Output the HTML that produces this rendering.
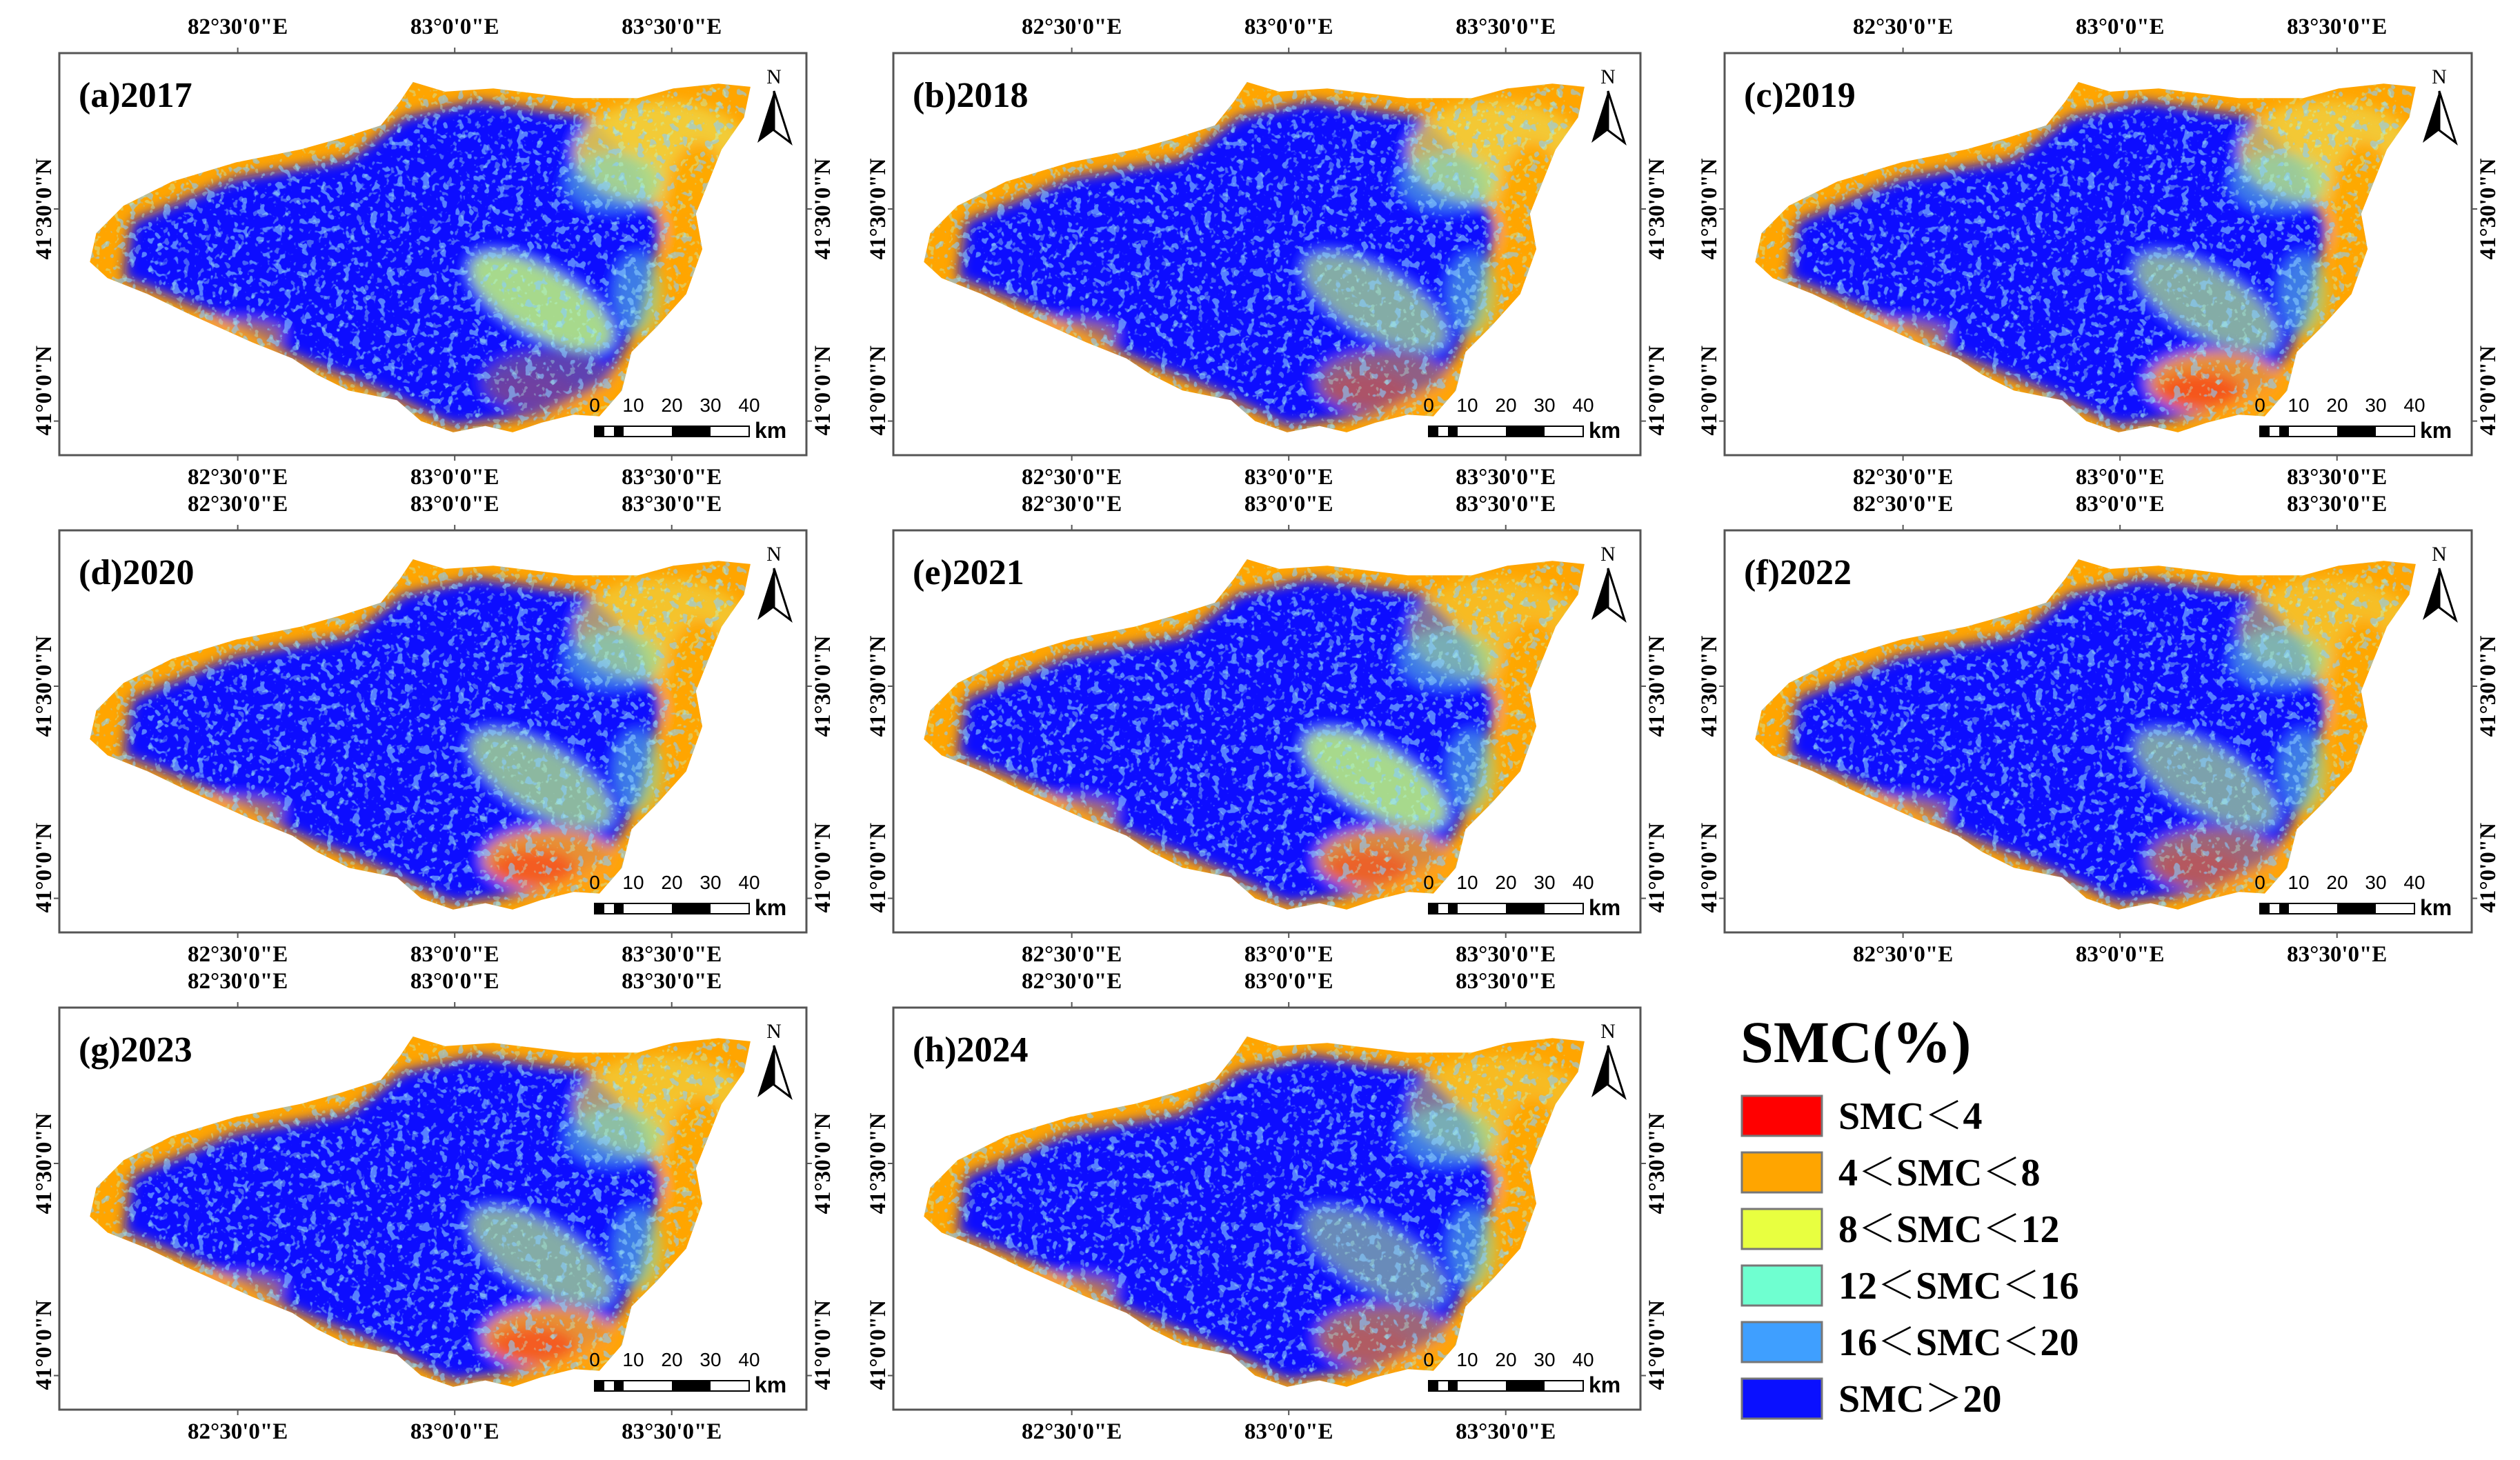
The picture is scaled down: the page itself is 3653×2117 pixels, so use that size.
<!DOCTYPE html>
<html><head><meta charset="utf-8">
<style>
html,body{margin:0;padding:0;background:#fff;}
svg{display:block;font-family:"Liberation Serif","Noto Serif CJK SC",serif;}
</style></head>
<body>
<svg id="fig" width="3653" height="2117" viewBox="0 0 3653 2117" xmlns="http://www.w3.org/2000/svg">
<defs>
<filter id="spk" x="0" y="0" width="1" height="1">
<feTurbulence type="fractalNoise" baseFrequency="0.08" numOctaves="2" seed="3"/>
<feColorMatrix type="matrix" values="0 0 0 0 0.25  0 0 0 0 0.62  0 0 0 0 1  16 0 0 0 -9.6"/>
</filter>
<filter id="spk2" x="0" y="0" width="1" height="1">
<feTurbulence type="fractalNoise" baseFrequency="0.1" numOctaves="2" seed="9"/>
<feColorMatrix type="matrix" values="0 0 0 0 0.45  0 0 0 0 1  0 0 0 0 0.8  16 0 0 0 -10"/>
</filter>
<filter id="blur"><feGaussianBlur stdDeviation="9"/></filter>
</defs>
</svg>
<script>
const years = ["(a)2017","(b)2018","(c)2019","(d)2020","(e)2021","(f)2022","(g)2023","(h)2024"];
const seOrange = [0.35,0.55,0.9,0.9,0.85,0.6,0.9,0.6];
const seRed = [0.1,0.25,0.6,0.55,0.45,0.25,0.55,0.2];
const centerLight = [0.9,0.7,0.7,0.75,0.9,0.65,0.7,0.55];
const neBlue = [0.2,0.3,0.3,0.5,0.8,0.7,0.5,0.8];
const lonLabels = ["82°30'0\"E","83°0'0\"E","83°30'0\"E"];
const latLabels = ["41°30'0\"N","41°0'0\"N"];
const scaleLabels = ["0","10","20","30","40"];
const legendLabels = ["SMC＜4","4＜SMC＜8","8＜SMC＜12","12＜SMC＜16","16＜SMC＜20","SMC＞20"];
const legendColors = ["#ff0000","#ffa500","#e8ff40","#6fffd0","#3f9fff","#0a10ff"];

const NS="http://www.w3.org/2000/svg";
const svg=document.getElementById('fig');
const defs=svg.querySelector('defs');
const f=2.33;
function el(t,a,p){const e=document.createElementNS(NS,t);for(const k in a)e.setAttribute(k,a[k]);(p||svg).appendChild(e);return e;}
const outline=[[23,112],[40,95],[70,80],[110,68],[150,60],[175,53],[200,45],[212,30],[220,18],[240,24],[270,22],[320,28],[360,28],[382,22],[410,19],[430,21],[426,40],[412,60],[404,80],[396,100],[400,122],[390,150],[372,170],[356,186],[350,210],[336,226],[320,225],[300,230],[282,236],[265,232],[245,236],[225,229],[210,216],[180,210],[160,200],[145,190],[120,180],[80,162],[55,150],[30,140],[19,130]];
const colX=[86,1295,2500], rowY=[77,769,1461];
const W=1083,H=583;
const lonTicks=[111,246,381], latTicks=[97,229];
const latCenter=[97,210];

years.forEach((yr,i)=>{
  const ox=colX[i%3], oy=rowY[Math.floor(i/3)];
  const g=el('g',{transform:`translate(${ox},${oy})`});
  
  
  el('rect',{x:0,y:0,width:W,height:H,fill:'#fff',stroke:'#555','stroke-width':3},g);
  const cp=el('clipPath',{id:'cp'+i},defs);
  const pts=outline.map(p=>(p[0]*f).toFixed(1)+','+(p[1]*f).toFixed(1)).join(' ');
  el('polygon',{points:pts},cp);
  const m=el('g',{'clip-path':`url(#cp${i})`},g);
  
  
  el('rect',{x:0,y:0,width:W,height:H,fill:'#ffa500'},m);
  const inner=el('g',{filter:'url(#blur)'},m);
  el('polygon',{points:[[45,105],[110,78],[180,66],[215,40],[260,30],[330,40],[360,70],[375,110],[362,165],[340,205],[300,225],[245,232],[200,210],[150,190],[90,160],[40,140]].map(p=>p[0]*f+','+p[1]*f).join(' '),fill:'#0a10ff'},inner);
  el('ellipse',{cx:375*f,cy:62*f,rx:55*f,ry:32*f,fill:'#f0d040',opacity:1-neBlue[i]*0.6},inner);
  el('ellipse',{cx:345*f,cy:80*f,rx:30*f,ry:18*f,fill:'#70e8d0',opacity:0.5},inner);
  el('ellipse',{cx:300*f,cy:155*f,rx:50*f,ry:20*f,fill:'#b8f080',opacity:centerLight[i],transform:`rotate(30 ${300*f} ${155*f})`},inner);
  el('ellipse',{cx:360*f,cy:150*f,rx:15*f,ry:25*f,fill:'#70e8d0',opacity:0.5},inner);
  el('ellipse',{cx:305*f,cy:205*f,rx:42*f,ry:20*f,fill:'#ffa020',opacity:seOrange[i]},inner);
  el('ellipse',{cx:295*f,cy:210*f,rx:26*f,ry:11*f,fill:'#ff3010',opacity:seRed[i]},inner);
  el('ellipse',{cx:398*f,cy:100*f,rx:22*f,ry:45*f,fill:'#ffa500',opacity:0.9},inner);
  el('ellipse',{cx:110*f,cy:175*f,rx:30*f,ry:9*f,fill:'#ffa500',opacity:0.6},inner);
  el('rect',{x:0,y:0,width:W,height:H,filter:'url(#spk)',opacity:0.6},m);
  el('rect',{x:0,y:0,width:W,height:H,filter:'url(#spk2)',opacity:0.35},m);
  lonTicks.forEach((t,k)=>{
    el('line',{x1:t*f,y1:0,x2:t*f,y2:-8,stroke:'#555','stroke-width':2},g);
    el('line',{x1:t*f,y1:H,x2:t*f,y2:H+8,stroke:'#555','stroke-width':2},g);
    const a=el('text',{x:t*f,y:-28,'text-anchor':'middle','font-size':33,'font-weight':'bold'},g);a.textContent=lonLabels[k];
    
    const b=el('text',{x:t*f,y:H+42,'text-anchor':'middle','font-size':33,'font-weight':'bold'},g);b.textContent=lonLabels[k];
    
  });
  latTicks.forEach((t,k)=>{
    el('line',{x1:0,y1:t*f,x2:-8,y2:t*f,stroke:'#555','stroke-width':2},g);
    el('line',{x1:W,y1:t*f,x2:W+8,y2:t*f,stroke:'#555','stroke-width':2},g);
    const c=latCenter[k]*f;
    const a=el('text',{x:0,y:0,'text-anchor':'middle','font-size':33,'font-weight':'bold',transform:`translate(-12,${c}) rotate(-90)`},g);a.textContent=latLabels[k];
    
    const b=el('text',{x:0,y:0,'text-anchor':'middle','font-size':33,'font-weight':'bold',transform:`translate(${W+34},${c}) rotate(-90)`},g);b.textContent=latLabels[k];
    
  });
  const tt=el('text',{x:28,y:78,'font-size':52,'font-weight':'bold'},g);tt.textContent=yr;
  
  const na=el('g',{},g);
  
  const nt=el('text',{x:1036,y:44,'text-anchor':'middle','font-size':30},na);nt.textContent='N';
  el('polygon',{points:'1036,55 1012,130 1036,112',fill:'#000'},na);
  el('polygon',{points:'1036,55 1060,130 1036,112',fill:'#fff',stroke:'#000','stroke-width':3},na);
  const sb=el('g',{},g);
  
  const x0=776,x1=1000;
  scaleLabels.forEach((s,k)=>{const t=el('text',{x:x0+k*(x1-x0)/4,y:520,'text-anchor':'middle','font-size':28,'font-family':'Liberation Sans, sans-serif'},sb);t.textContent=s;});
  el('rect',{x:x0,y:541,width:x1-x0,height:15,fill:'#fff',stroke:'#000','stroke-width':2},sb);
  [[0,14],[28,42],[112,168]].forEach(r=>el('rect',{x:x0+r[0],y:541,width:r[1]-r[0],height:15,fill:'#000'},sb));
  const km=el('text',{x:1008,y:558,'font-size':32,'font-weight':'bold','font-family':'Liberation Sans, sans-serif'},sb);km.textContent='km';
});

const lg=el('g',{});

const lt=el('text',{x:2523,y:1540,'font-size':86,'font-weight':'bold'},lg);lt.textContent='SMC(%)';
legendLabels.forEach((s,k)=>{
  const y=1589+k*82;
  const r=el('rect',{x:2525,y:y,width:116,height:58,fill:legendColors[k],stroke:'#777','stroke-width':3},lg);
  
  const t=el('text',{x:2665,y:y+48,'font-size':56,'font-weight':'bold'},lg);t.textContent=s;
  
});
</script>
</body></html>
